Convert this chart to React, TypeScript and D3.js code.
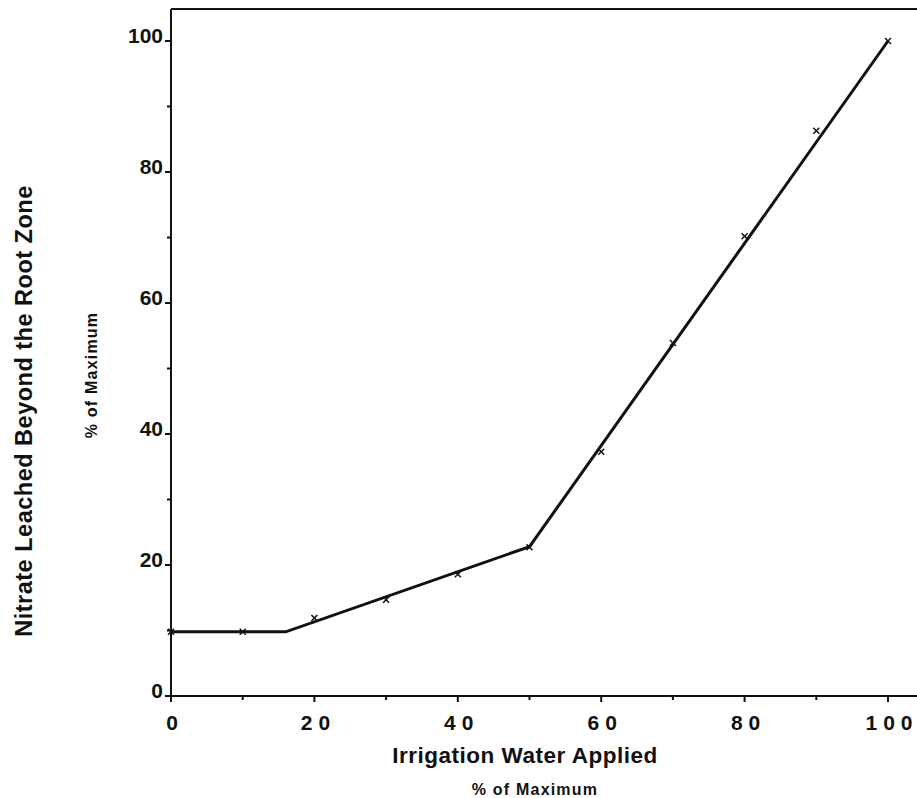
import React from "react";
import * as d3 from "d3";

// Measured points: irrigation water applied vs nitrate leached (% of maximum)
const waterApplied = [0, 10, 20, 30, 40, 50, 60, 70, 80, 90, 100];
const nitrateLeached = [9.8, 9.8, 11.9, 14.7, 18.6, 22.7, 37.3, 53.9, 70.2, 86.3, 100];

// Fitted piecewise-linear response
const fitX = [0, 16, 50, 100];
const fitY = [9.8, 9.8, 22.8, 100];

const xMajorTicks = [0, 20, 40, 60, 80, 100];
const xMinorTicks = [10, 30, 50, 70, 90];
const yMajorTicks = [0, 20, 40, 60, 80, 100];
const yMinorTicks = [10, 30, 50, 70, 90];

const W = 917;
const H = 798;
const left = 171;
const right = 888;
const top = 41;
const bottom = 696;

const font = "'Liberation Sans', Arial, Helvetica, sans-serif";
const digitGap = 6;

export default function App() {
  const x = d3.scaleLinear().domain([0, 100]).range([left, right]);
  const y = d3.scaleLinear().domain([0, 100]).range([bottom, top]);

  const line = d3
    .line<number>()
    .x((_, i) => x(fitX[i]))
    .y((d) => y(d));

  return (
    <svg
      width={W}
      height={H}
      style={{ position: "absolute", left: 0, top: 0, background: "#fff" }}
      fontFamily={font}
    >
      {/* frame */}
      <line x1={left} x2={W} y1={9} y2={9} stroke="#111" strokeWidth={2} />
      <line x1={left} x2={left} y1={9} y2={bottom} stroke="#111" strokeWidth={2} />
      <line x1={left} x2={W} y1={bottom} y2={bottom} stroke="#111" strokeWidth={2} />

      {/* x ticks, digits spread apart */}
      {xMajorTicks.map((t) => (
        <g key={"xm" + t}>
          <line x1={x(t)} x2={x(t)} y1={bottom} y2={bottom + 6} stroke="#111" strokeWidth={2} />
          <text
            x={x(t) + 1}
            y={730}
            textAnchor="middle"
            fontSize={21}
            fontWeight="bold"
            fill="#111"
          >
            {String(t)
              .split("")
              .map((c, i) => (
                <tspan key={i} dx={i === 0 ? 0 : digitGap}>
                  {c}
                </tspan>
              ))}
          </text>
        </g>
      ))}
      {xMinorTicks.map((t) => (
        <line key={"xn" + t} x1={x(t)} x2={x(t)} y1={bottom} y2={bottom + 4} stroke="#111" strokeWidth={2} />
      ))}

      {/* y ticks */}
      {yMajorTicks.map((t) => (
        <g key={"ym" + t}>
          <line x1={left - 6} x2={left} y1={y(t)} y2={y(t)} stroke="#111" strokeWidth={2} />
          <text
            x={left - 8}
            y={y(t) + 2}
            textAnchor="end"
            fontSize={21}
            fontWeight="bold"
            fill="#111"
          >
            {t}
          </text>
        </g>
      ))}
      {yMinorTicks.map((t) => (
        <line key={"yn" + t} x1={left - 4} x2={left} y1={y(t)} y2={y(t)} stroke="#111" strokeWidth={2} />
      ))}

      {/* fitted line */}
      <path d={line(fitY) || ""} fill="none" stroke="#111" strokeWidth={3} />

      {/* data markers */}
      {waterApplied.map((w, i) => {
        const cx = x(w);
        const cy = y(nitrateLeached[i]);
        return (
          <g key={"p" + i} stroke="#111" strokeWidth={1.5}>
            <line x1={cx - 3} x2={cx + 3} y1={cy - 3} y2={cy + 3} />
            <line x1={cx - 3} x2={cx + 3} y1={cy + 3} y2={cy - 3} />
          </g>
        );
      })}

      {/* axis titles */}
      <text x={525} y={763} textAnchor="middle" fontSize={22.5} fontWeight="bold" letterSpacing={0.5} fill="#111">
        Irrigation Water Applied
      </text>
      <text x={535} y={795} textAnchor="middle" fontSize={16} fontWeight="bold" letterSpacing={1.2} fill="#111">
        % of Maximum
      </text>
      <text
        transform={`translate(32, 411) rotate(-90)`}
        textAnchor="middle"
        fontSize={23.5}
        fontWeight="bold"
        letterSpacing={0.5}
        fill="#111"
      >
        Nitrate Leached Beyond the Root Zone
      </text>
      <text
        transform={`translate(97, 375) rotate(-90)`}
        textAnchor="middle"
        fontSize={16}
        fontWeight="bold"
        letterSpacing={1.2}
        fill="#111"
      >
        % of Maximum
      </text>
    </svg>
  );
}
